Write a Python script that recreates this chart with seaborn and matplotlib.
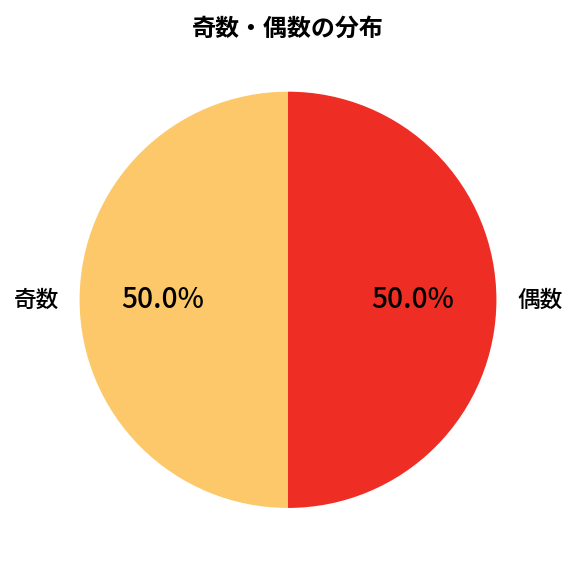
import matplotlib
matplotlib.use('Agg')
import matplotlib.pyplot as plt
import seaborn as sns

sns.set_theme(style='white')
plt.rcParams['font.family'] = ['Noto Sans CJK JP', 'DejaVu Sans']
plt.rcParams['text.color'] = 'black'

# data
labels = ['奇数', '偶数']
values = [50, 50]
colors = ['#FDC86A', '#EE2E24']

fig, ax = plt.subplots(figsize=(6, 6), dpi=96)
wedges, texts, autotexts = ax.pie(values, labels=labels, colors=colors,
                                  autopct='%1.1f%%', startangle=90,
                                  wedgeprops={'linewidth': 0},
                                  textprops={'fontsize': 17, 'color': 'black'})
for t in texts:
    t.set_fontweight('medium')
for t in autotexts:
    t.set_fontsize(21)
    t.set_fontweight('medium')
ax.set_title('奇数・偶数の分布', fontsize=18, fontweight='bold', color='black', pad=26)
ax.axis('equal')
plt.subplots_adjust(left=0.102, right=0.898, top=0.877, bottom=0.082)
plt.savefig('out.png', dpi=96)
